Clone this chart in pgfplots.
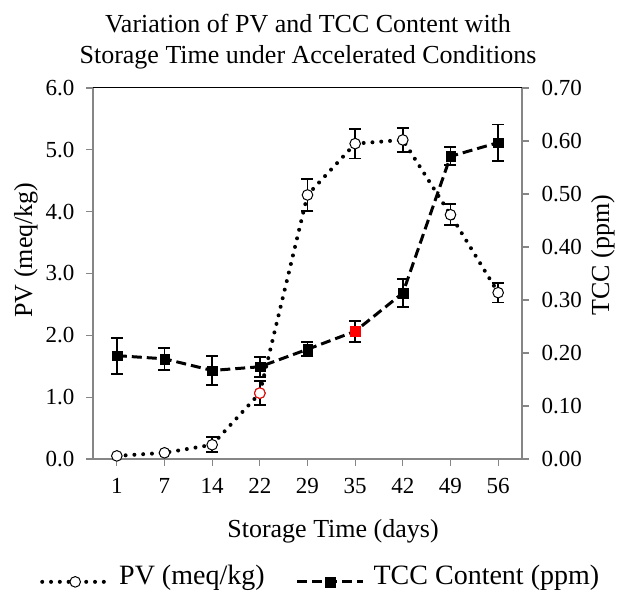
\documentclass[border=0pt]{standalone}
\usepackage{fontspec}
\setmainfont{Liberation Serif}
\usepackage{pgfplots}
\usepackage{pgfplotstable}
\pgfplotsset{compat=1.18}
\definecolor{axgray}{RGB}{134,134,134}

\pgfplotstableread{
x pv pverr tcc tccerr
0 0.05 0.00 0.195 0.034
1 0.10 0.00 0.189 0.021
2 0.23 0.12 0.167 0.028
3 1.065 0.19 0.174 0.019
4 4.27 0.26 0.207 0.013
5 5.10 0.24 0.241 0.020
6 5.16 0.19 0.313 0.026
7 3.95 0.17 0.571 0.017
8 2.69 0.16 0.597 0.034
}\datatable

\pgfplotsset{
  common/.style={
    at={(93pt,134pt)}, anchor=south west,
    scale only axis, width=429pt, height=371pt,
    xmin=-0.5, xmax=8.5,
    tick align=outside, major tick length=7pt,
    tick style={draw=axgray, line width=1.3pt},
    x axis line style={-, draw=axgray, line width=1.3pt},
    y axis line style={-, draw=axgray, line width=1.3pt},
    ticklabel style={font=\fontsize{23}{27}\selectfont},
    /pgf/number format/assume math mode=true,
    clip=false,
  },
  pvline/.style={black, line width=4pt, dash pattern=on 0pt off 8.8pt, line cap=round},
  pvmark/.style={mark=*, mark size=5.3pt, mark options={solid, fill=white, draw=black, line width=1pt}},
  tccline/.style={black, line width=3pt, dash pattern=on 10pt off 5pt},
  tccmark/.style={mark=square*, mark size=4.8pt, mark options={solid, fill=black, draw=black, line width=0.2pt}},
  ebars/.style={error bars/.cd, y dir=both, y explicit,
    error bar style={draw=black, solid, line width=1.8pt},
    error mark options={draw=black, solid, mark size=6pt, line width=1.8pt, rotate=90}},
}

\begin{document}
\begin{tikzpicture}[x=1pt,y=1pt]
\useasboundingbox (0,0) rectangle (619,593);

\begin{axis}[common,
  ymin=0, ymax=6,
  axis y line*=left, axis x line*=bottom,
  xtick={0,...,8}, xticklabels={1,7,14,22,29,35,42,49,56},
  xticklabel style={yshift=-9pt},
  ytick={0,1,2,3,4,5,6},
  yticklabel style={xshift=-8pt, /pgf/number format/fixed, /pgf/number format/fixed zerofill, /pgf/number format/precision=1},
]
\draw[black, line width=1pt] (rel axis cs:0,1) -- (rel axis cs:1,1);
\addplot[draw=none, mark=none, forget plot, skip coords between index={0}{2}, ebars]
  table[x=x, y=pv, y error=pverr] {\datatable};
\addplot[pvline, mark=none, forget plot] table[x=x, y=pv] {\datatable};
\addplot[only marks, pvmark, forget plot] table[x=x, y=pv] {\datatable};
\addplot[only marks, mark=*, mark size=5.3pt, mark options={solid, fill=white, draw=red, line width=1pt}, forget plot]
  coordinates {(3,1.065)};
\end{axis}

\begin{axis}[common,
  ymin=0, ymax=0.7,
  axis y line*=right, axis x line=none,
  ytick={0,0.1,0.2,0.3,0.4,0.5,0.6,0.7},
  yticklabel style={xshift=9pt, /pgf/number format/fixed, /pgf/number format/fixed zerofill, /pgf/number format/precision=2},
  legend columns=2,
  legend style={at={(-0.1235,-0.315)}, anchor=west, draw=none, fill=none, inner sep=0pt,
    font=\fontsize{28}{32}\selectfont,
    /tikz/every odd column/.append style={column sep=7pt},
    /tikz/every even column/.append style={column sep=29pt}},
  legend image code/.code={\draw[mark repeat=2, mark phase=2, #1] plot coordinates {(0pt,-6pt) (33pt,-6pt) (66pt,-6pt)};},
]
\addlegendimage{pvline, pvmark}
\addlegendentry{PV (meq/kg)}
\addplot[draw=none, mark=none, forget plot, ebars]
  table[x=x, y=tcc, y error=tccerr] {\datatable};
\addplot[tccline, tccmark] table[x=x, y=tcc] {\datatable};
\addlegendentry{TCC Content (ppm)}
\addplot[only marks, mark=square*, mark size=4.8pt, mark options={solid, fill=red, draw=red, line width=0.2pt}, forget plot]
  coordinates {(5,0.241)};
\end{axis}

\node[anchor=north, align=center, inner sep=0pt, font=\fontsize{26}{31}\selectfont] at (308,579)
  {Variation of PV and TCC Content with\\Storage Time under Accelerated Conditions};
\node[anchor=base, inner sep=0pt, font=\fontsize{26}{30}\selectfont] at (333,55) {Storage Time (days)};
\node[anchor=base, rotate=90, inner sep=0pt, font=\fontsize{26}{30}\selectfont] at (32,343) {PV (meq/kg)};
\node[anchor=base, rotate=90, inner sep=0pt, font=\fontsize{26}{30}\selectfont] at (609,338) {TCC (ppm)};
\end{tikzpicture}
\end{document}
